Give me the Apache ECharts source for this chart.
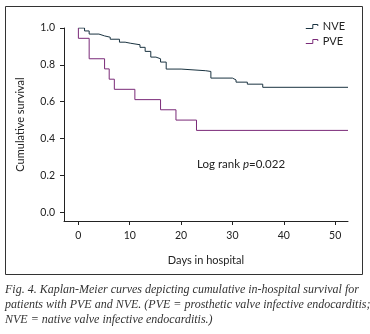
<!DOCTYPE html>
<html>
<head>
<meta charset="utf-8">
<script src="https://cdn.jsdelivr.net/npm/echarts@6/dist/echarts.min.js"></script>
<style>
  html, body { margin: 0; padding: 0; background: #fff; }
  #chart { width: 370px; height: 334px; }
</style>
</head>
<body>
<div id="chart"></div>
<script>
// Kaplan-Meier step points [day, survival]
const nveDays = [0, 1.2, 2.1, 4.0, 5.1, 6.2, 8.0, 9.1, 10.2, 12.0, 13.0, 14.1, 15.1, 16.0, 17.1, 20.0, 24.8, 25.8, 30.0, 30.7, 32.9, 35.9, 52.5]
const nveSurv = [1.0, 0.984, 0.967, 0.957, 0.950, 0.939, 0.923, 0.917, 0.909, 0.895, 0.873, 0.842, 0.833, 0.815, 0.777, 0.768, 0.764, 0.728, 0.718, 0.706, 0.695, 0.678, 0.678]
const pveDays = [0, 0, 2.1, 5.1, 6.0, 7.0, 11.0, 16.0, 19.0, 23.0, 52.5]
const pveSurv = [1.0, 0.944, 0.833, 0.778, 0.722, 0.667, 0.611, 0.556, 0.5, 0.444, 0.444]
const xTicks = [0, 10, 20, 30, 40, 50]
const yTicks = [0, 0.2, 0.4, 0.6, 0.8, 1.0]
const captionLines = [
  'Fig. 4. Kaplan-Meier curves depicting cumulative in-hospital survival for',
  'patients with PVE and NVE. (PVE = prosthetic valve infective endocarditis;',
  'NVE = native valve infective endocarditis.)',
]

const zip = (xs, ys) => xs.map((x, i) => [x, ys[i]])
const font = 'Lato'
const ink = '#222'
const nveColor = '#1a3340'
const pveColor = '#7a2a78'

const stepIcon = 'path://M0,4 L7,4 L7,0 L12,0 L12,1.5'
const legendItem = (name, color) => ({
  name,
  icon: stepIcon,
  itemStyle: { color: 'transparent', borderColor: color, borderWidth: 1 },
})

const option = {
  animation: false,
  textStyle: { fontFamily: font },
  grid: { left: 64, right: 22, top: 28, bottom: 113 },
  legend: {
    orient: 'vertical',
    right: 20,
    top: 16,
    itemGap: 4,
    itemWidth: 12,
    itemHeight: 4,
    textStyle: { fontSize: 11, color: ink, padding: [0, 0, 0, 0] },
    data: [legendItem('NVE', nveColor), legendItem('PVE', pveColor)],
  },
  xAxis: {
    type: 'value',
    min: -2.8,
    max: 52.5,
    splitLine: { show: false },
    axisLine: { onZero: false, lineStyle: { color: ink, width: 1 } },
    axisTick: { show: true, length: 4, customValues: xTicks, lineStyle: { color: ink } },
    axisLabel: { customValues: xTicks, margin: 9, fontSize: 10.5, color: ink },
    name: 'Days in hospital',
    nameLocation: 'middle',
    nameGap: 34,
    nameTextStyle: { fontSize: 11, color: ink },
  },
  yAxis: {
    type: 'value',
    min: -0.048,
    max: 1.0,
    splitLine: { show: false },
    axisLine: { show: true, onZero: false, lineStyle: { color: ink, width: 1 } },
    axisTick: { show: true, length: 4, customValues: yTicks, lineStyle: { color: ink } },
    axisLabel: {
      customValues: yTicks,
      margin: 9,
      fontSize: 10.5,
      color: ink,
      formatter: (v) => v.toFixed(1),
    },
    name: 'Cumulative survival',
    nameLocation: 'middle',
    nameGap: 38,
    nameTextStyle: { fontSize: 11, color: ink },
  },
  series: [
    {
      name: 'NVE',
      type: 'line',
      step: 'end',
      symbol: 'none',
      color: nveColor,
      lineStyle: { width: 1, color: nveColor },
      data: zip(nveDays, nveSurv),
    },
    {
      name: 'PVE',
      type: 'line',
      step: 'end',
      symbol: 'none',
      color: pveColor,
      lineStyle: { width: 1, color: pveColor },
      data: zip(pveDays, pveSurv),
    },
  ],
  graphic: [
    {
      type: 'rect',
      shape: { x: 5.5, y: 6.5, width: 357, height: 268 },
      style: { fill: 'none', stroke: '#333', lineWidth: 1 },
      silent: true,
    },
    {
      type: 'text',
      left: 197,
      top: 158,
      style: {
        text: 'Log rank {i|p}=0.022',
        font: '11.5px Lato',
        fill: ink,
        rich: { i: { fontStyle: 'italic', fontSize: 11.5, fontFamily: font, fill: ink } },
      },
    },
    ...captionLines.map((line, i) => ({
      type: 'text',
      left: 5,
      top: 284 + i * 15,
      style: {
        text: line,
        font: 'italic 12px "Liberation Serif"',
        fill: '#333',
      },
    })),
  ],
}

const chart = echarts.init(document.getElementById('chart'))
chart.setOption(option)
</script>
</body>
</html>
